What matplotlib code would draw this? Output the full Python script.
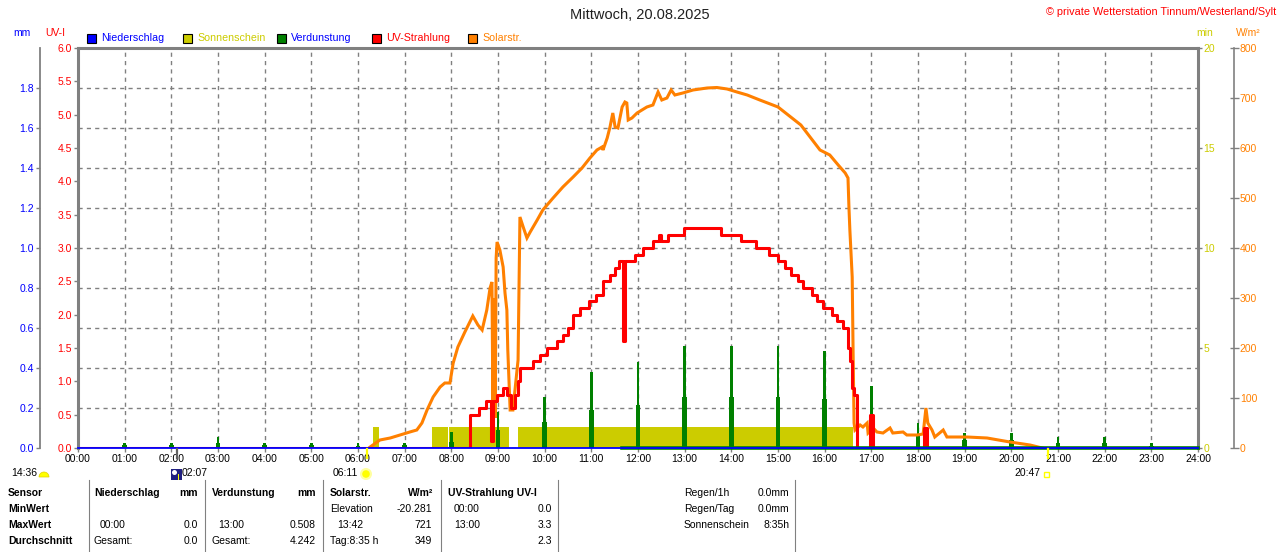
import numpy as np
import matplotlib
matplotlib.use("Agg")
import matplotlib.pyplot as plt
from matplotlib.patches import Rectangle, Circle, Wedge
from matplotlib.lines import Line2D
from matplotlib.transforms import IdentityTransform, blended_transform_factory

plt.rcParams['font.family'] = ['Liberation Sans', 'DejaVu Sans']

W, H = 1280, 552

# x axis
hours = list(range(25))
hour_labels = ["%02d:00" % h for h in hours]

# Sonnenschein (min), blocks of sunshine
sun_start = [6.33, 7.58, 7.95, 9.43]
sun_end = [6.45, 7.93, 9.23, 16.61]
sun_min = [1.05, 1.05, 1.05, 1.05]

# Verdunstung (mm), hourly spikes
evap_hours = list(range(1, 24))
evap_top = [0.027, 0.027, 0.053, 0.027, 0.027, 0.025, 0.027, 0.080, 0.180, 0.256, 0.380, 0.430,
            0.508, 0.510, 0.510, 0.487, 0.310, 0.127, 0.077, 0.075, 0.055, 0.055, 0.025]
evap_low = [0.013, 0.013, 0.027, 0.013, 0.013, 0.012, 0.013, 0.030, 0.090, 0.130, 0.190, 0.215,
            0.256, 0.256, 0.256, 0.245, 0.157, 0.065, 0.040, 0.040, 0.027, 0.027, 0.012]
evap_line_t = [11.66, 24.0]
evap_line_v = [0.0, 0.0]

# UV-Strahlung (UV-I), step data
uv_t = [0.00, 8.40, 8.59, 8.75, 8.86, 8.90, 8.98, 9.11, 9.20, 9.28, 9.36, 9.42, 9.47, 9.75, 9.90,
        10.05, 10.26, 10.40, 10.50, 10.61, 10.76, 10.95, 11.10, 11.25, 11.40, 11.50, 11.60, 11.68,
        11.72, 11.94, 12.11, 12.32, 12.45, 12.50, 12.64, 12.98, 13.78, 14.20, 14.53, 14.80, 15.00,
        15.15, 15.28, 15.42, 15.54, 15.73, 15.84, 15.96, 16.16, 16.26, 16.39, 16.50, 16.54, 16.58,
        16.62, 16.70, 16.98, 17.03, 18.12, 18.19, 24.00]
uv_v = [0.0, 0.5, 0.6, 0.7, 0.1, 0.7, 0.8, 0.9, 0.8, 0.6, 0.8, 1.0, 1.2, 1.3, 1.4,
        1.5, 1.6, 1.7, 1.8, 2.0, 2.1, 2.2, 2.3, 2.5, 2.6, 2.7, 2.8, 1.6,
        2.8, 2.9, 3.0, 3.1, 3.2, 3.1, 3.2, 3.3, 3.2, 3.1, 3.0, 2.9, 2.8,
        2.7, 2.6, 2.5, 2.4, 2.3, 2.2, 2.1, 2.0, 1.9, 1.8, 1.5, 1.3, 0.9,
        0.8, 0.0, 0.5, 0.0, 0.3, 0.0, 0.0]

# Solarstrahlung (W/m2)
solar_t = [6.26, 6.47, 6.69, 6.90, 7.11, 7.26, 7.37, 7.48, 7.61, 7.76,
           7.86, 7.97, 8.04, 8.14, 8.29, 8.46, 8.57, 8.66, 8.76, 8.83,
           8.87, 8.89, 8.91, 8.94, 8.96, 8.98, 9.04, 9.11, 9.15, 9.19,
           9.21, 9.26, 9.32, 9.43, 9.47, 9.54, 9.62, 9.69, 9.84, 9.96,
           10.18, 10.39, 10.61, 10.80, 10.97, 11.12, 11.23, 11.25, 11.34, 11.40,
           11.46, 11.51, 11.57, 11.66, 11.72, 11.76, 11.79, 11.87, 11.98, 12.19,
           12.32, 12.43, 12.51, 12.62, 12.71, 12.79, 12.96, 13.18, 13.48, 13.69,
           13.91, 14.12, 14.34, 14.61, 15.00, 15.49, 15.90, 16.11, 16.29, 16.44,
           16.50, 16.52, 16.54, 16.59, 16.61, 16.63, 16.65, 16.76, 16.82, 16.91,
           16.93, 17.04, 17.12, 17.25, 17.40, 17.46, 17.68, 17.76, 17.98, 18.11,
           18.17, 18.21, 18.30, 18.36, 18.54, 18.62, 19.05, 19.48, 19.97, 20.40,
           20.66]
solar_v = [2, 16, 20, 26, 32, 36, 50, 76, 102, 122,
           130, 130, 170, 202, 232, 264, 246, 236, 276, 320,
           332, 96, 300, 60, 380, 412, 396, 362, 310, 276,
           196, 76, 76, 176, 462, 442, 420, 432, 456, 476,
           500, 522, 542, 560, 580, 596, 602, 596, 620, 642,
           670, 642, 640, 682, 692, 690, 656, 660, 670, 682,
           686, 712, 696, 700, 716, 706, 710, 716, 720, 721,
           718, 712, 706, 696, 682, 646, 596, 586, 566, 550,
           540, 482, 436, 342, 186, 50, 36, 46, 42, 50,
           30, 40, 32, 30, 40, 30, 32, 26, 26, 28,
           80, 50, 36, 22, 36, 22, 22, 20, 12, 6,
           0]

# Niederschlag (mm)
rain_t = [0.0, 24.0]
rain_v = [0.0, 0.0]

# sun / moon times
sunrise_h = 6 + 11 / 60
sunset_h = 20 + 47 / 60
moonrise_h = 2 + 7 / 60

title = "Mittwoch, 20.08.2025"
credit = "\u00a9 private Wetterstation Tinnum/Westerland/Sylt"

legend_names = ["Niederschlag", "Sonnenschein", "Verdunstung", "UV-Strahlung", "Solarstr."]
legend_box = ["#0000ff", "#cccc00", "#008000", "#ff0000", "#ff8000"]
legend_txt = ["#0000ff", "#cccc00", "#0000ff", "#ff0000", "#ff8000"]

table_header = ["Sensor", "MinWert", "MaxWert", "Durchschnitt"]

GRID = "#808080"
YEL = "#cccc00"
ORG = "#ff8000"
FS = 7.5


def fx(x):
    return x / W


def fy(y):
    return 1 - y / H


def px2pt(p):
    return p * 72 / 100


fig = plt.figure(figsize=(12.8, 5.52), dpi=100)
fig.patch.set_facecolor("white")
rect = [fx(78), fy(448), 1120 / W, 400 / H]

# base axes: mm scale, carries the grid and the time axis
ax = fig.add_axes(rect)
ax.set_xlim(0, 24)
ax.set_ylim(0, 2.0)
ax.set_xticks(hours)
ax.set_xticklabels(hour_labels)
mm_ticks = np.arange(0, 1.81, 0.2)
ax.set_yticks(mm_ticks)
ax.set_yticklabels(["%.1f" % v for v in mm_ticks])
ax.tick_params(axis="x", colors=GRID, labelcolor="black", length=px2pt(4), width=1,
               pad=1.5, labelsize=FS)
ax.tick_params(axis="y", colors=GRID, labelcolor="#0000ff", length=px2pt(4), width=1,
               pad=1.5, labelsize=FS)
for s in ["top", "right", "bottom"]:
    ax.spines[s].set_visible(False)
ax.spines["left"].set_position(("outward", px2pt(38)))
ax.spines["left"].set_color(GRID)
ax.spines["left"].set_linewidth(1.3)
ax.grid(True, color=GRID, linestyle=(0, (3, 3)), linewidth=1.0)


def twin():
    t = ax.twinx()
    for s in t.spines.values():
        s.set_visible(False)
    return t


# sunshine minutes
ax_min = twin()
ax_min.set_ylim(0, 20)
ax_min.bar(sun_start, sun_min, width=np.subtract(sun_end, sun_start), align="edge",
           color=YEL, linewidth=0)
ax_min.set_yticks([0, 5, 10, 15, 20])
ax_min.spines["right"].set_visible(True)
ax_min.spines["right"].set_color(GRID)
ax_min.spines["right"].set_linewidth(2.2)
ax_min.tick_params(axis="y", colors=GRID, labelcolor=YEL, length=px2pt(4), width=1,
                   pad=1, labelsize=FS)

# evaporation spikes
ax_ev = twin()
ax_ev.set_ylim(0, 2.0)
ax_ev.set_yticks([])
ax_ev.bar(evap_hours, evap_low, width=0.10, color="#008000", linewidth=0)
ax_ev.bar(evap_hours, evap_top, width=0.06, color="#008000", linewidth=0)

# solar radiation
ax_w = twin()
ax_w.set_ylim(0, 800)
ax_w.plot(solar_t, solar_v, color=ORG, lw=2.2, solid_joinstyle="miter")
ax_w.set_yticks(range(0, 801, 100))
ax_w.spines["right"].set_visible(True)
ax_w.spines["right"].set_position(("outward", px2pt(36)))
ax_w.spines["right"].set_color(GRID)
ax_w.spines["right"].set_linewidth(1.2)
ax_w.tick_params(axis="y", colors=GRID, labelcolor=ORG, direction="inout", length=px2pt(9),
                 width=1, pad=1, labelsize=FS)

# UV index
ax_uv = twin()
ax_uv.set_ylim(0, 6)
ax_uv.step(uv_t, uv_v, where="post", color="#ff0000", lw=2.2)
ax_uv.yaxis.tick_left()
uv_ticks = np.arange(0, 6.01, 0.5)
ax_uv.set_yticks(uv_ticks)
ax_uv.set_yticklabels(["%.1f" % v for v in uv_ticks])
for s in ["left", "top"]:
    ax_uv.spines[s].set_visible(True)
    ax_uv.spines[s].set_color(GRID)
    ax_uv.spines[s].set_linewidth(2.2)
ax_uv.tick_params(axis="y", colors=GRID, labelcolor="#ff0000", length=px2pt(4), width=1,
                  pad=1.5, labelsize=FS)

# rain line on top
ax_r = twin()
ax_r.set_ylim(0, 2.0)
ax_r.set_yticks([])
ax_r.plot(evap_line_t, evap_line_v, color="#008000", lw=2.6, clip_on=False)
ax_r.plot(rain_t, rain_v, color="#0000ff", lw=1.3, clip_on=False)

trans = blended_transform_factory(ax_r.transData, ax_r.transAxes)
ax_r.plot([sunrise_h, sunrise_h], [-0.002, -0.025], transform=trans, color="#ffff00",
          lw=1.6, clip_on=False)
ax_r.plot([sunset_h, sunset_h], [-0.002, -0.025], transform=trans, color="#ffff00",
          lw=1.6, clip_on=False)
ax_r.plot([moonrise_h, moonrise_h], [-0.002, -0.025], transform=trans, color="#606060",
          lw=1.6, clip_on=False)

# header texts
fig.text(fx(640), fy(15), title, ha="center", va="center", fontsize=10.5, color="#202020")
fig.text(fx(1276), fy(12), credit, ha="right", va="center", fontsize=7.8, color="#ff0000")
fig.text(fx(22), fy(33), "mm", ha="center", va="center", fontsize=FS, color="#0000ff")
fig.text(fx(55), fy(33), "UV-I", ha="center", va="center", fontsize=FS, color="#ff0000")
fig.text(fx(1205), fy(33), "min", ha="center", va="center", fontsize=FS, color=YEL)
fig.text(fx(1248), fy(33), "W/m\u00b2", ha="center", va="center", fontsize=FS, color=ORG)

# legend
leg_x = [87, 183, 277, 372, 468]
for x0, name, cb, ct in zip(leg_x, legend_names, legend_box, legend_txt):
    fig.add_artist(Rectangle((x0, H - 43), 9, 9, transform=IdentityTransform(),
                             facecolor=cb, edgecolor="black", linewidth=0.8))
    fig.text(fx(x0 + 14), fy(38), name, ha="left", va="center", fontsize=7.7, color=ct)

# sun and moon row
fig.text(fx(11), fy(473), "14:36", ha="left", va="center", fontsize=FS)
fig.add_artist(Wedge((44, H - 477), 5, 0, 180, transform=IdentityTransform(),
                     facecolor="#ffff00", edgecolor="#e0d000", linewidth=0.5))
fig.add_artist(Rectangle((171, H - 480), 11, 11, transform=IdentityTransform(),
                         facecolor="#202080", edgecolor="none"))
fig.add_artist(Circle((174.5, H - 472.5), 2.5, transform=IdentityTransform(),
                      facecolor="white", edgecolor="none"))
fig.add_artist(Rectangle((177.5, H - 480), 1.5, 6, transform=IdentityTransform(),
                         facecolor="#ffff00", edgecolor="none"))
fig.text(fx(182), fy(473), "02:07", ha="left", va="center", fontsize=FS)
fig.text(fx(333), fy(473), "06:11", ha="left", va="center", fontsize=FS)
fig.add_artist(Circle((366, H - 474), 6, transform=IdentityTransform(),
                      facecolor="#ffffa0", edgecolor="none"))
fig.add_artist(Circle((366, H - 474), 3.8, transform=IdentityTransform(),
                      facecolor="#ffff00", edgecolor="none"))
fig.text(fx(1040), fy(473), "20:47", ha="right", va="center", fontsize=FS)
fig.add_artist(Rectangle((1044, H - 477), 5, 5, transform=IdentityTransform(),
                         facecolor="none", edgecolor="#ffff00", linewidth=1))

# table
row_y = [493, 509, 525, 541]
for y, t in zip(row_y, table_header):
    fig.text(fx(8), fy(y), t, ha="left", va="center", fontsize=FS, fontweight="bold")

cells = [
    (94, 493, "Niederschlag", "left", True), (198, 493, "mm", "right", True),
    (212, 493, "Verdunstung", "left", True), (316, 493, "mm", "right", True),
    (330, 493, "Solarstr.", "left", True), (433, 493, "W/m\u00b2", "right", True),
    (448, 493, "UV-Strahlung UV-I", "left", True),
    (330, 509, "Elevation", "left", False), (432, 509, "-20.281", "right", False),
    (454, 509, "00:00", "left", False), (552, 509, "0.0", "right", False),
    (100, 525, "00:00", "left", False), (198, 525, "0.0", "right", False),
    (218, 525, "13:00", "left", False), (316, 525, "0.508", "right", False),
    (337, 525, "13:42", "left", False), (432, 525, "721", "right", False),
    (454, 525, "13:00", "left", False), (552, 525, "3.3", "right", False),
    (94, 541, "Gesamt:", "left", False), (198, 541, "0.0", "right", False),
    (212, 541, "Gesamt:", "left", False), (316, 541, "4.242", "right", False),
    (330, 541, "Tag:8:35 h", "left", False), (432, 541, "349", "right", False),
    (552, 541, "2.3", "right", False),
    (684, 493, "Regen/1h", "left", False), (789, 493, "0.0mm", "right", False),
    (684, 509, "Regen/Tag", "left", False), (789, 509, "0.0mm", "right", False),
    (684, 525, "Sonnenschein", "left", False), (789, 525, "8:35h", "right", False),
]
for x, y, t, ha, bold in cells:
    fig.text(fx(x), fy(y), t, ha=ha, va="center", fontsize=FS,
             fontweight="bold" if bold else "normal")

for x in [89, 205, 323, 441, 558, 795]:
    fig.add_artist(Line2D([fx(x), fx(x)], [fy(480), fy(552)], transform=fig.transFigure,
                          color=GRID, lw=0.8))

fig.savefig("out.png", dpi=100, facecolor="white")
